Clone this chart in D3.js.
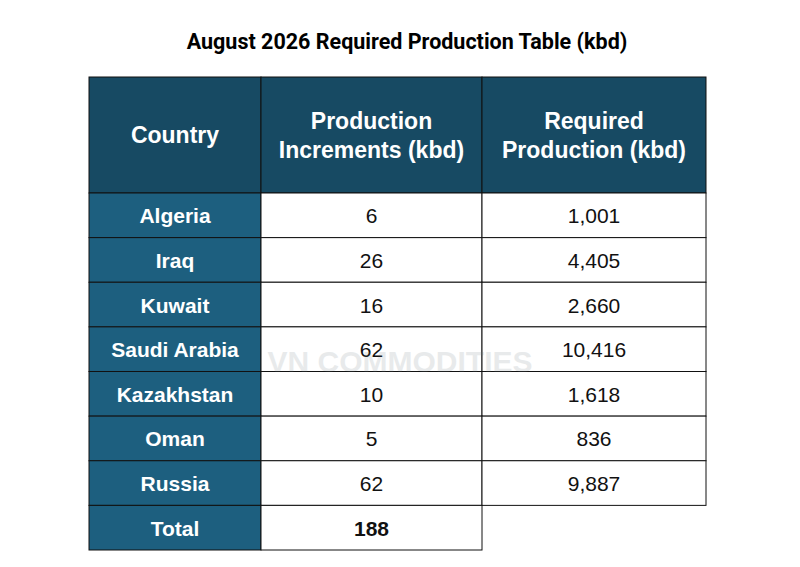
<!DOCTYPE html>
<html><head><meta charset="utf-8">
<script src="https://cdn.jsdelivr.net/npm/d3@7"></script>
<style>body{margin:0;background:#fff}</style>
</head><body><svg id="chart"></svg>
<script>
const title = "August 2026 Required Production Table (kbd)";
const headers = [["Country"], ["Production", "Increments (kbd)"], ["Required", "Production (kbd)"]];
const countries = ["Algeria", "Iraq", "Kuwait", "Saudi Arabia", "Kazakhstan", "Oman", "Russia", "Total"];
const increments = [6, 26, 16, 62, 10, 5, 62, 188];
const required = [1001, 4405, 2660, 10416, 1618, 836, 9887, null];

const W = 800, H = 567;
const svg = d3.select("#chart").attr("width", W).attr("height", H);
const font = "Liberation Sans, Arial, sans-serif";

svg.append("text").attr("x", 407).attr("y", 49).attr("text-anchor", "middle")
  .style("font-family", "Roboto, Arial, sans-serif").style("font-weight", 700).style("font-size", "21.5px")
  .text(title);

// column edges
const colX = [89, 261, 482, 706];
const headTop = 77, headBot = 193, tableBot = 550;
const y = d3.scaleBand().domain(d3.range(countries.length)).range([headBot, tableBot]);

// header
const head = svg.append("g");
headers.forEach((lines, i) => {
  head.append("rect").attr("x", colX[i]).attr("y", headTop)
    .attr("width", colX[i + 1] - colX[i]).attr("height", headBot - headTop)
    .attr("fill", "#174a63").attr("stroke", "#111").attr("stroke-width", 1);
  const cx = (colX[i] + colX[i + 1]) / 2, cy = (headTop + headBot) / 2;
  lines.forEach((l, j) => {
    head.append("text").attr("x", cx)
      .attr("y", cy + (j - (lines.length - 1) / 2) * 29 + 8)
      .attr("text-anchor", "middle").attr("fill", "#fff")
      .style("font-family", font).style("font-weight", 700).style("font-size", "23px").text(l);
  });
});

// rows
const rows = svg.append("g").selectAll("g").data(countries).join("g");
rows.each(function (c, i) {
  const g = d3.select(this), top = y(i), h = y.bandwidth();
  const vals = [c, increments[i], required[i]];
  vals.forEach((v, k) => {
    if (v === null) return;
    g.append("rect").attr("x", colX[k]).attr("y", top)
      .attr("width", colX[k + 1] - colX[k]).attr("height", h)
      .attr("fill", k === 0 ? "#1d5f7f" : "#fff")
      .attr("stroke", "#111").attr("stroke-width", 1);
    g.append("text").attr("x", (colX[k] + colX[k + 1]) / 2).attr("y", top + h / 2 + 8)
      .attr("text-anchor", "middle")
      .attr("fill", k === 0 ? "#fff" : "#111")
      .style("font-family", font)
      .style("font-weight", k === 0 || c === "Total" ? 700 : 400)
      .style("font-size", "21px")
      .text(k === 0 ? v : d3.format(",")(v));
  });
});

// watermark (faint, drawn on top like the reference)
svg.append("text").attr("x", 400).attr("y", 372).attr("text-anchor", "middle")
  .attr("opacity", 0.15)
  .style("font-family", font).style("font-weight", 700).style("font-size", "30px")
  .attr("fill", "#6a7a80").text("VN COMMODITIES");
</script></body></html>
